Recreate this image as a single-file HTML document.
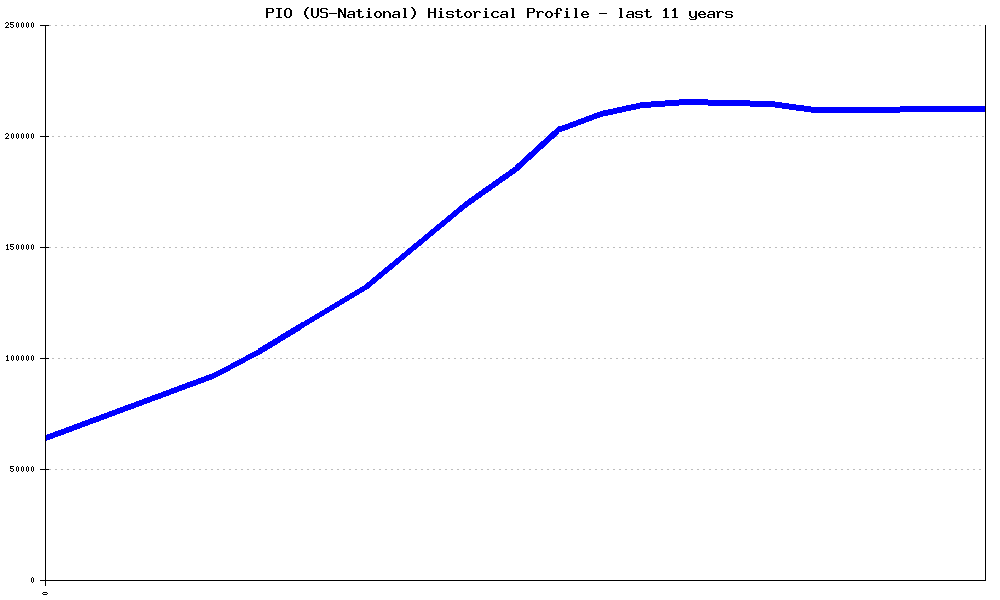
<!DOCTYPE html>
<html><head><meta charset="utf-8">
<title>PIO (US-National) Historical Profile - last 11 years</title>
<style>
html,body{margin:0;padding:0;background:#fff;width:1000px;height:600px;overflow:hidden}
svg{display:block}
.t{font-family:"Liberation Mono",monospace;font-size:15px;fill:transparent}
.l{font-family:"Liberation Mono",monospace;font-size:8.3px;fill:transparent}
</style></head><body>
<svg width="1000" height="600" viewBox="0 0 1000 600">
<rect x="0" y="0" width="1000" height="600" fill="#fff"/>
<path id="ttl" fill="#000" shape-rendering="crispEdges" d="M266,8h7v1h-7zM266,9h2v1h-2zM272,9h2v1h-2zM266,10h2v1h-2zM272,10h2v1h-2zM266,11h2v1h-2zM272,11h2v1h-2zM266,12h7v1h-7zM266,13h2v1h-2zM266,14h2v1h-2zM266,15h2v1h-2zM266,16h2v1h-2zM266,17h2v1h-2zM276,8h6v1h-6zM278,9h2v1h-2zM278,10h2v1h-2zM278,11h2v1h-2zM278,12h2v1h-2zM278,13h2v1h-2zM278,14h2v1h-2zM278,15h2v1h-2zM278,16h2v1h-2zM276,17h6v1h-6zM286,8h4v1h-4zM285,9h2v1h-2zM289,9h2v1h-2zM284,10h2v1h-2zM290,10h2v1h-2zM284,11h2v1h-2zM290,11h2v1h-2zM284,12h2v1h-2zM290,12h2v1h-2zM284,13h2v1h-2zM290,13h2v1h-2zM284,14h2v1h-2zM290,14h2v1h-2zM284,15h2v1h-2zM290,15h2v1h-2zM285,16h2v1h-2zM289,16h2v1h-2zM286,17h4v1h-4zM307,7h2v1h-2zM306,8h2v1h-2zM305,9h2v1h-2zM305,10h2v1h-2zM304,11h2v1h-2zM304,12h2v1h-2zM304,13h2v1h-2zM304,14h2v1h-2zM305,15h2v1h-2zM305,16h2v1h-2zM306,17h2v1h-2zM307,18h2v1h-2zM311,8h2v1h-2zM317,8h2v1h-2zM311,9h2v1h-2zM317,9h2v1h-2zM311,10h2v1h-2zM317,10h2v1h-2zM311,11h2v1h-2zM317,11h2v1h-2zM311,12h2v1h-2zM317,12h2v1h-2zM311,13h2v1h-2zM317,13h2v1h-2zM311,14h2v1h-2zM317,14h2v1h-2zM311,15h2v1h-2zM317,15h2v1h-2zM312,16h2v1h-2zM316,16h2v1h-2zM313,17h4v1h-4zM321,8h6v1h-6zM320,9h2v1h-2zM326,9h2v1h-2zM320,10h2v1h-2zM320,11h2v1h-2zM321,12h6v1h-6zM326,13h2v1h-2zM326,14h2v1h-2zM326,15h2v1h-2zM320,16h2v1h-2zM326,16h2v1h-2zM321,17h6v1h-6zM329,13h8v1h-8zM338,8h2v1h-2zM344,8h2v1h-2zM338,9h3v1h-3zM344,9h2v1h-2zM338,10h4v1h-4zM344,10h2v1h-2zM338,11h4v1h-4zM344,11h2v1h-2zM338,12h2v1h-2zM341,12h2v1h-2zM344,12h2v1h-2zM338,13h2v1h-2zM342,13h1v1h-1zM344,13h2v1h-2zM338,14h2v1h-2zM342,14h4v1h-4zM338,15h2v1h-2zM343,15h3v1h-3zM338,16h2v1h-2zM343,16h3v1h-3zM338,17h2v1h-2zM344,17h2v1h-2zM349,11h5v1h-5zM348,12h2v1h-2zM353,12h2v1h-2zM353,13h2v1h-2zM348,14h7v1h-7zM347,15h2v1h-2zM353,15h2v1h-2zM347,16h2v1h-2zM353,16h2v1h-2zM348,17h4v1h-4zM353,17h2v1h-2zM358,9h2v1h-2zM358,10h2v1h-2zM356,11h6v1h-6zM358,12h2v1h-2zM358,13h2v1h-2zM358,14h2v1h-2zM358,15h2v1h-2zM358,16h2v1h-2zM362,16h2v1h-2zM359,17h4v1h-4zM368,8h2v1h-2zM368,9h2v1h-2zM367,11h3v1h-3zM368,12h2v1h-2zM368,13h2v1h-2zM368,14h2v1h-2zM368,15h2v1h-2zM368,16h2v1h-2zM366,17h6v1h-6zM376,11h4v1h-4zM375,12h2v1h-2zM379,12h2v1h-2zM374,13h2v1h-2zM380,13h2v1h-2zM374,14h2v1h-2zM380,14h2v1h-2zM374,15h2v1h-2zM380,15h2v1h-2zM375,16h2v1h-2zM379,16h2v1h-2zM376,17h4v1h-4zM383,11h2v1h-2zM386,11h3v1h-3zM383,12h3v1h-3zM388,12h2v1h-2zM383,13h2v1h-2zM389,13h2v1h-2zM383,14h2v1h-2zM389,14h2v1h-2zM383,15h2v1h-2zM389,15h2v1h-2zM383,16h2v1h-2zM389,16h2v1h-2zM383,17h2v1h-2zM389,17h2v1h-2zM394,11h5v1h-5zM393,12h2v1h-2zM398,12h2v1h-2zM398,13h2v1h-2zM393,14h7v1h-7zM392,15h2v1h-2zM398,15h2v1h-2zM392,16h2v1h-2zM398,16h2v1h-2zM393,17h4v1h-4zM398,17h2v1h-2zM403,8h3v1h-3zM404,9h2v1h-2zM404,10h2v1h-2zM404,11h2v1h-2zM404,12h2v1h-2zM404,13h2v1h-2zM404,14h2v1h-2zM404,15h2v1h-2zM404,16h2v1h-2zM403,17h4v1h-4zM411,7h2v1h-2zM412,8h2v1h-2zM413,9h2v1h-2zM413,10h2v1h-2zM414,11h2v1h-2zM414,12h2v1h-2zM414,13h2v1h-2zM414,14h2v1h-2zM413,15h2v1h-2zM413,16h2v1h-2zM412,17h2v1h-2zM411,18h2v1h-2zM428,8h2v1h-2zM434,8h2v1h-2zM428,9h2v1h-2zM434,9h2v1h-2zM428,10h2v1h-2zM434,10h2v1h-2zM428,11h2v1h-2zM434,11h2v1h-2zM428,12h8v1h-8zM428,13h2v1h-2zM434,13h2v1h-2zM428,14h2v1h-2zM434,14h2v1h-2zM428,15h2v1h-2zM434,15h2v1h-2zM428,16h2v1h-2zM434,16h2v1h-2zM428,17h2v1h-2zM434,17h2v1h-2zM440,8h2v1h-2zM440,9h2v1h-2zM439,11h3v1h-3zM440,12h2v1h-2zM440,13h2v1h-2zM440,14h2v1h-2zM440,15h2v1h-2zM440,16h2v1h-2zM438,17h6v1h-6zM447,11h6v1h-6zM446,12h2v1h-2zM452,12h2v1h-2zM446,13h2v1h-2zM447,14h6v1h-6zM452,15h2v1h-2zM446,16h2v1h-2zM452,16h2v1h-2zM447,17h6v1h-6zM457,9h2v1h-2zM457,10h2v1h-2zM455,11h6v1h-6zM457,12h2v1h-2zM457,13h2v1h-2zM457,14h2v1h-2zM457,15h2v1h-2zM457,16h2v1h-2zM461,16h2v1h-2zM458,17h4v1h-4zM466,11h4v1h-4zM465,12h2v1h-2zM469,12h2v1h-2zM464,13h2v1h-2zM470,13h2v1h-2zM464,14h2v1h-2zM470,14h2v1h-2zM464,15h2v1h-2zM470,15h2v1h-2zM465,16h2v1h-2zM469,16h2v1h-2zM466,17h4v1h-4zM473,11h2v1h-2zM476,11h4v1h-4zM474,12h3v1h-3zM479,12h2v1h-2zM474,13h2v1h-2zM474,14h2v1h-2zM474,15h2v1h-2zM474,16h2v1h-2zM474,17h2v1h-2zM485,8h2v1h-2zM485,9h2v1h-2zM484,11h3v1h-3zM485,12h2v1h-2zM485,13h2v1h-2zM485,14h2v1h-2zM485,15h2v1h-2zM485,16h2v1h-2zM483,17h6v1h-6zM493,11h5v1h-5zM492,12h2v1h-2zM497,12h2v1h-2zM491,13h2v1h-2zM491,14h2v1h-2zM491,15h2v1h-2zM492,16h2v1h-2zM497,16h2v1h-2zM493,17h5v1h-5zM502,11h5v1h-5zM501,12h2v1h-2zM506,12h2v1h-2zM506,13h2v1h-2zM501,14h7v1h-7zM500,15h2v1h-2zM506,15h2v1h-2zM500,16h2v1h-2zM506,16h2v1h-2zM501,17h4v1h-4zM506,17h2v1h-2zM511,8h3v1h-3zM512,9h2v1h-2zM512,10h2v1h-2zM512,11h2v1h-2zM512,12h2v1h-2zM512,13h2v1h-2zM512,14h2v1h-2zM512,15h2v1h-2zM512,16h2v1h-2zM511,17h4v1h-4zM527,8h7v1h-7zM527,9h2v1h-2zM533,9h2v1h-2zM527,10h2v1h-2zM533,10h2v1h-2zM527,11h2v1h-2zM533,11h2v1h-2zM527,12h7v1h-7zM527,13h2v1h-2zM527,14h2v1h-2zM527,15h2v1h-2zM527,16h2v1h-2zM527,17h2v1h-2zM536,11h2v1h-2zM539,11h4v1h-4zM537,12h3v1h-3zM542,12h2v1h-2zM537,13h2v1h-2zM537,14h2v1h-2zM537,15h2v1h-2zM537,16h2v1h-2zM537,17h2v1h-2zM547,11h4v1h-4zM546,12h2v1h-2zM550,12h2v1h-2zM545,13h2v1h-2zM551,13h2v1h-2zM545,14h2v1h-2zM551,14h2v1h-2zM545,15h2v1h-2zM551,15h2v1h-2zM546,16h2v1h-2zM550,16h2v1h-2zM547,17h4v1h-4zM557,8h4v1h-4zM556,9h2v1h-2zM560,9h2v1h-2zM556,10h2v1h-2zM560,10h2v1h-2zM556,11h2v1h-2zM556,12h2v1h-2zM554,13h6v1h-6zM556,14h2v1h-2zM556,15h2v1h-2zM556,16h2v1h-2zM556,17h2v1h-2zM566,8h2v1h-2zM566,9h2v1h-2zM565,11h3v1h-3zM566,12h2v1h-2zM566,13h2v1h-2zM566,14h2v1h-2zM566,15h2v1h-2zM566,16h2v1h-2zM564,17h6v1h-6zM574,8h3v1h-3zM575,9h2v1h-2zM575,10h2v1h-2zM575,11h2v1h-2zM575,12h2v1h-2zM575,13h2v1h-2zM575,14h2v1h-2zM575,15h2v1h-2zM575,16h2v1h-2zM574,17h4v1h-4zM583,11h4v1h-4zM582,12h2v1h-2zM586,12h2v1h-2zM581,13h2v1h-2zM587,13h2v1h-2zM581,14h8v1h-8zM581,15h2v1h-2zM582,16h2v1h-2zM587,16h2v1h-2zM583,17h5v1h-5zM599,13h8v1h-8zM619,8h3v1h-3zM620,9h2v1h-2zM620,10h2v1h-2zM620,11h2v1h-2zM620,12h2v1h-2zM620,13h2v1h-2zM620,14h2v1h-2zM620,15h2v1h-2zM620,16h2v1h-2zM619,17h4v1h-4zM628,11h5v1h-5zM627,12h2v1h-2zM632,12h2v1h-2zM632,13h2v1h-2zM627,14h7v1h-7zM626,15h2v1h-2zM632,15h2v1h-2zM626,16h2v1h-2zM632,16h2v1h-2zM627,17h4v1h-4zM632,17h2v1h-2zM636,11h6v1h-6zM635,12h2v1h-2zM641,12h2v1h-2zM635,13h2v1h-2zM636,14h6v1h-6zM641,15h2v1h-2zM635,16h2v1h-2zM641,16h2v1h-2zM636,17h6v1h-6zM646,9h2v1h-2zM646,10h2v1h-2zM644,11h6v1h-6zM646,12h2v1h-2zM646,13h2v1h-2zM646,14h2v1h-2zM646,15h2v1h-2zM646,16h2v1h-2zM650,16h2v1h-2zM647,17h4v1h-4zM665,8h2v1h-2zM664,9h3v1h-3zM663,10h4v1h-4zM665,11h2v1h-2zM665,12h2v1h-2zM665,13h2v1h-2zM665,14h2v1h-2zM665,15h2v1h-2zM665,16h2v1h-2zM663,17h6v1h-6zM674,8h2v1h-2zM673,9h3v1h-3zM672,10h4v1h-4zM674,11h2v1h-2zM674,12h2v1h-2zM674,13h2v1h-2zM674,14h2v1h-2zM674,15h2v1h-2zM674,16h2v1h-2zM672,17h6v1h-6zM689,11h2v1h-2zM695,11h2v1h-2zM689,12h2v1h-2zM695,12h2v1h-2zM689,13h2v1h-2zM695,13h2v1h-2zM689,14h2v1h-2zM695,14h2v1h-2zM689,15h2v1h-2zM695,15h2v1h-2zM690,16h2v1h-2zM694,16h3v1h-3zM691,17h3v1h-3zM695,17h2v1h-2zM689,18h1v1h-1zM695,18h2v1h-2zM690,19h6v1h-6zM700,11h4v1h-4zM699,12h2v1h-2zM703,12h2v1h-2zM698,13h2v1h-2zM704,13h2v1h-2zM698,14h8v1h-8zM698,15h2v1h-2zM699,16h2v1h-2zM704,16h2v1h-2zM700,17h5v1h-5zM709,11h5v1h-5zM708,12h2v1h-2zM713,12h2v1h-2zM713,13h2v1h-2zM708,14h7v1h-7zM707,15h2v1h-2zM713,15h2v1h-2zM707,16h2v1h-2zM713,16h2v1h-2zM708,17h4v1h-4zM713,17h2v1h-2zM716,11h2v1h-2zM719,11h4v1h-4zM717,12h3v1h-3zM722,12h2v1h-2zM717,13h2v1h-2zM717,14h2v1h-2zM717,15h2v1h-2zM717,16h2v1h-2zM717,17h2v1h-2zM726,11h6v1h-6zM725,12h2v1h-2zM731,12h2v1h-2zM725,13h2v1h-2zM726,14h6v1h-6zM731,15h2v1h-2zM725,16h2v1h-2zM731,16h2v1h-2zM726,17h6v1h-6z"/>
<g stroke="#bbb" stroke-width="1" stroke-dasharray="2 4" shape-rendering="crispEdges">
<line x1="49" y1="25.5" x2="985" y2="25.5"/>
<line x1="46" y1="136.5" x2="985" y2="136.5"/>
<line x1="49" y1="247.5" x2="985" y2="247.5"/>
<line x1="46" y1="358.5" x2="985" y2="358.5"/>
<line x1="49" y1="469.5" x2="985" y2="469.5"/>
</g>
<g stroke="#000" stroke-width="1" shape-rendering="crispEdges">
<line x1="45.5" y1="25" x2="45.5" y2="586"/>
<line x1="40" y1="580.5" x2="986" y2="580.5"/>
<line x1="985.5" y1="25" x2="985.5" y2="581"/>
<line x1="40" y1="25.5" x2="49" y2="25.5"/>
<line x1="40" y1="136.5" x2="49" y2="136.5"/>
<line x1="40" y1="247.5" x2="49" y2="247.5"/>
<line x1="40" y1="358.5" x2="49" y2="358.5"/>
<line x1="40" y1="469.5" x2="49" y2="469.5"/>
</g>
<path fill="#000" shape-rendering="crispEdges" d="M6,22h2v1h-2zM5,23h1v1h-1zM8,23h1v1h-1zM8,24h1v1h-1zM7,25h1v1h-1zM6,26h1v1h-1zM5,27h4v1h-4zM10,22h4v1h-4zM10,23h1v1h-1zM10,24h3v1h-3zM13,25h1v1h-1zM10,26h1v1h-1zM13,26h1v1h-1zM11,27h2v1h-2zM17,22h1v1h-1zM16,23h1v1h-1zM18,23h1v1h-1zM16,24h1v1h-1zM18,24h1v1h-1zM16,25h1v1h-1zM18,25h1v1h-1zM16,26h1v1h-1zM18,26h1v1h-1zM17,27h1v1h-1zM22,22h1v1h-1zM21,23h1v1h-1zM23,23h1v1h-1zM21,24h1v1h-1zM23,24h1v1h-1zM21,25h1v1h-1zM23,25h1v1h-1zM21,26h1v1h-1zM23,26h1v1h-1zM22,27h1v1h-1zM27,22h1v1h-1zM26,23h1v1h-1zM28,23h1v1h-1zM26,24h1v1h-1zM28,24h1v1h-1zM26,25h1v1h-1zM28,25h1v1h-1zM26,26h1v1h-1zM28,26h1v1h-1zM27,27h1v1h-1zM32,22h1v1h-1zM31,23h1v1h-1zM33,23h1v1h-1zM31,24h1v1h-1zM33,24h1v1h-1zM31,25h1v1h-1zM33,25h1v1h-1zM31,26h1v1h-1zM33,26h1v1h-1zM32,27h1v1h-1zM6,133h2v1h-2zM5,134h1v1h-1zM8,134h1v1h-1zM8,135h1v1h-1zM7,136h1v1h-1zM6,137h1v1h-1zM5,138h4v1h-4zM12,133h1v1h-1zM11,134h1v1h-1zM13,134h1v1h-1zM11,135h1v1h-1zM13,135h1v1h-1zM11,136h1v1h-1zM13,136h1v1h-1zM11,137h1v1h-1zM13,137h1v1h-1zM12,138h1v1h-1zM17,133h1v1h-1zM16,134h1v1h-1zM18,134h1v1h-1zM16,135h1v1h-1zM18,135h1v1h-1zM16,136h1v1h-1zM18,136h1v1h-1zM16,137h1v1h-1zM18,137h1v1h-1zM17,138h1v1h-1zM22,133h1v1h-1zM21,134h1v1h-1zM23,134h1v1h-1zM21,135h1v1h-1zM23,135h1v1h-1zM21,136h1v1h-1zM23,136h1v1h-1zM21,137h1v1h-1zM23,137h1v1h-1zM22,138h1v1h-1zM27,133h1v1h-1zM26,134h1v1h-1zM28,134h1v1h-1zM26,135h1v1h-1zM28,135h1v1h-1zM26,136h1v1h-1zM28,136h1v1h-1zM26,137h1v1h-1zM28,137h1v1h-1zM27,138h1v1h-1zM32,133h1v1h-1zM31,134h1v1h-1zM33,134h1v1h-1zM31,135h1v1h-1zM33,135h1v1h-1zM31,136h1v1h-1zM33,136h1v1h-1zM31,137h1v1h-1zM33,137h1v1h-1zM32,138h1v1h-1zM7,244h1v1h-1zM6,245h2v1h-2zM7,246h1v1h-1zM7,247h1v1h-1zM7,248h1v1h-1zM6,249h3v1h-3zM10,244h4v1h-4zM10,245h1v1h-1zM10,246h3v1h-3zM13,247h1v1h-1zM10,248h1v1h-1zM13,248h1v1h-1zM11,249h2v1h-2zM17,244h1v1h-1zM16,245h1v1h-1zM18,245h1v1h-1zM16,246h1v1h-1zM18,246h1v1h-1zM16,247h1v1h-1zM18,247h1v1h-1zM16,248h1v1h-1zM18,248h1v1h-1zM17,249h1v1h-1zM22,244h1v1h-1zM21,245h1v1h-1zM23,245h1v1h-1zM21,246h1v1h-1zM23,246h1v1h-1zM21,247h1v1h-1zM23,247h1v1h-1zM21,248h1v1h-1zM23,248h1v1h-1zM22,249h1v1h-1zM27,244h1v1h-1zM26,245h1v1h-1zM28,245h1v1h-1zM26,246h1v1h-1zM28,246h1v1h-1zM26,247h1v1h-1zM28,247h1v1h-1zM26,248h1v1h-1zM28,248h1v1h-1zM27,249h1v1h-1zM32,244h1v1h-1zM31,245h1v1h-1zM33,245h1v1h-1zM31,246h1v1h-1zM33,246h1v1h-1zM31,247h1v1h-1zM33,247h1v1h-1zM31,248h1v1h-1zM33,248h1v1h-1zM32,249h1v1h-1zM7,355h1v1h-1zM6,356h2v1h-2zM7,357h1v1h-1zM7,358h1v1h-1zM7,359h1v1h-1zM6,360h3v1h-3zM12,355h1v1h-1zM11,356h1v1h-1zM13,356h1v1h-1zM11,357h1v1h-1zM13,357h1v1h-1zM11,358h1v1h-1zM13,358h1v1h-1zM11,359h1v1h-1zM13,359h1v1h-1zM12,360h1v1h-1zM17,355h1v1h-1zM16,356h1v1h-1zM18,356h1v1h-1zM16,357h1v1h-1zM18,357h1v1h-1zM16,358h1v1h-1zM18,358h1v1h-1zM16,359h1v1h-1zM18,359h1v1h-1zM17,360h1v1h-1zM22,355h1v1h-1zM21,356h1v1h-1zM23,356h1v1h-1zM21,357h1v1h-1zM23,357h1v1h-1zM21,358h1v1h-1zM23,358h1v1h-1zM21,359h1v1h-1zM23,359h1v1h-1zM22,360h1v1h-1zM27,355h1v1h-1zM26,356h1v1h-1zM28,356h1v1h-1zM26,357h1v1h-1zM28,357h1v1h-1zM26,358h1v1h-1zM28,358h1v1h-1zM26,359h1v1h-1zM28,359h1v1h-1zM27,360h1v1h-1zM32,355h1v1h-1zM31,356h1v1h-1zM33,356h1v1h-1zM31,357h1v1h-1zM33,357h1v1h-1zM31,358h1v1h-1zM33,358h1v1h-1zM31,359h1v1h-1zM33,359h1v1h-1zM32,360h1v1h-1zM10,466h4v1h-4zM10,467h1v1h-1zM10,468h3v1h-3zM13,469h1v1h-1zM10,470h1v1h-1zM13,470h1v1h-1zM11,471h2v1h-2zM17,466h1v1h-1zM16,467h1v1h-1zM18,467h1v1h-1zM16,468h1v1h-1zM18,468h1v1h-1zM16,469h1v1h-1zM18,469h1v1h-1zM16,470h1v1h-1zM18,470h1v1h-1zM17,471h1v1h-1zM22,466h1v1h-1zM21,467h1v1h-1zM23,467h1v1h-1zM21,468h1v1h-1zM23,468h1v1h-1zM21,469h1v1h-1zM23,469h1v1h-1zM21,470h1v1h-1zM23,470h1v1h-1zM22,471h1v1h-1zM27,466h1v1h-1zM26,467h1v1h-1zM28,467h1v1h-1zM26,468h1v1h-1zM28,468h1v1h-1zM26,469h1v1h-1zM28,469h1v1h-1zM26,470h1v1h-1zM28,470h1v1h-1zM27,471h1v1h-1zM32,466h1v1h-1zM31,467h1v1h-1zM33,467h1v1h-1zM31,468h1v1h-1zM33,468h1v1h-1zM31,469h1v1h-1zM33,469h1v1h-1zM31,470h1v1h-1zM33,470h1v1h-1zM32,471h1v1h-1zM32,577h1v1h-1zM31,578h1v1h-1zM33,578h1v1h-1zM31,579h1v1h-1zM33,579h1v1h-1zM31,580h1v1h-1zM33,580h1v1h-1zM31,581h1v1h-1zM33,581h1v1h-1zM32,582h1v1h-1zM43,592h4v1h-4z M42,593h1v1h-1z M47,593h1v1h-1z M43,594h4v1h-4z"/>
<path fill="#0000ff" shape-rendering="crispEdges" d="M46.00,435.00L215.00,372.30L215.00,378.30L46.00,441.00ZM215.00,372.30L258.00,349.30L258.00,355.30L215.00,378.30ZM258.00,348.80L302.00,322.00L302.00,329.00L258.00,355.80ZM302.00,322.50L366.00,284.10L366.00,290.10L302.00,328.50ZM366.00,283.60L467.00,200.10L467.00,207.10L366.00,290.60ZM467.00,200.10L514.70,166.50L514.70,173.50L467.00,207.10ZM514.70,166.00L558.70,125.80L558.70,133.80L514.70,174.00ZM558.70,126.80L601.00,111.00L601.00,117.00L558.70,132.80ZM601.00,111.00L642.00,102.14L642.00,108.14L601.00,117.00ZM642.00,102.14L686.25,98.98L686.25,104.98L642.00,108.14ZM686.25,98.98L750.00,100.50L750.00,106.50L686.25,104.98ZM750.00,100.50L775.00,101.50L775.00,107.50L750.00,106.50ZM775.00,101.50L811.00,106.55L811.00,112.55L775.00,107.50ZM811.00,107.00L900.00,107.00L900.00,113.00L811.00,113.00ZM900.00,106.00L985.00,106.00L985.00,112.00L900.00,112.00Z"/>
<g class="t"><text x="265" y="18" textLength="468" lengthAdjust="spacingAndGlyphs">PIO (US-National) Historical Profile - last 11 years</text></g>
<g class="l" text-anchor="end"><text x="34" y="28">250000</text><text x="34" y="139">200000</text><text x="34" y="250">150000</text><text x="34" y="361">100000</text><text x="34" y="472">50000</text><text x="34" y="583">0</text><text x="48" y="595">0</text></g>
</svg>
</body></html>
